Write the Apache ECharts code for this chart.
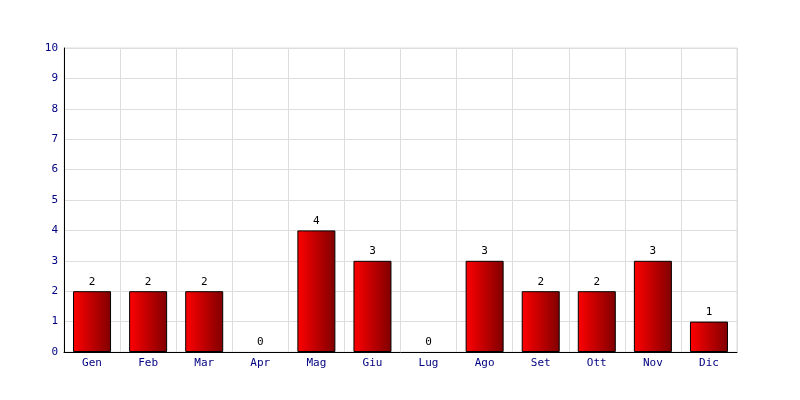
<!DOCTYPE html>
<html><head><meta charset="utf-8">
<script src="https://cdn.jsdelivr.net/npm/echarts@6/dist/echarts.min.js"></script>
<style>html,body{margin:0;padding:0;background:#fff}#c{width:800px;height:400px}</style>
</head><body><div id="c"></div>
<script>
const categories = ['Gen','Feb','Mar','Apr','Mag','Giu','Lug','Ago','Set','Ott','Nov','Dic'];
const values = [2,2,2,0,4,3,0,3,2,2,3,1];
const yMin = 0, yMax = 10, yInterval = 1;

const chart = echarts.init(document.getElementById('c'), null, {renderer:'canvas'});
const font = '"DejaVu Sans Mono", monospace';
const barData = values.map(v => v === 0 ? {value:v, itemStyle:{borderWidth:0, opacity:0}} : {value:v});
chart.setOption({
  animation:false,
  backgroundColor:'#fff',
  grid:{left:64,right:63,top:48,bottom:48,show:true,borderColor:'#dddddd',borderWidth:1,backgroundColor:'transparent'},
  xAxis:{type:'category',data:categories,
    axisLine:{show:true,lineStyle:{color:'#000',width:1}},
    axisTick:{show:false},
    splitLine:{show:true,lineStyle:{color:'#dddddd',width:1}},
    axisLabel:{color:'#000080',fontFamily:font,fontSize:11,margin:6}},
  yAxis:{type:'value',min:yMin,max:yMax,interval:yInterval,
    axisLine:{show:true,lineStyle:{color:'#000',width:1}},
    axisTick:{show:false},
    splitLine:{show:true,lineStyle:{color:'#dddddd',width:1}},
    axisLabel:{color:'#000080',fontFamily:font,fontSize:11,margin:6}},
  series:[{type:'bar',data:barData,barWidth:38,
    itemStyle:{borderColor:'#000',borderWidth:1,
      color:new echarts.graphic.LinearGradient(0,0,1,0,[{offset:0,color:'#ff0000'},{offset:1,color:'#800000'}])},
    label:{show:true,position:'top',distance:4,color:'#000',fontFamily:font,fontSize:11,opacity:1}}]
});
</script></body></html>
